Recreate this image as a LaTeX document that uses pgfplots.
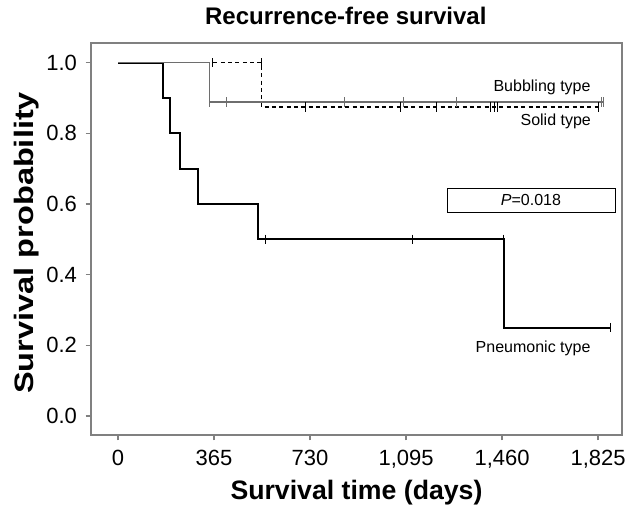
\documentclass[border=0pt]{standalone}
\usepackage{pgfplots}
\pgfplotsset{compat=1.18}
\usepackage{fontspec}
\setmainfont{Liberation Sans}
\definecolor{axgray}{HTML}{808080}
\definecolor{bubgray}{HTML}{6E6E6E}
\begin{document}
\begin{tikzpicture}[x=1pt,y=1pt]
\begin{axis}[
  scale only axis,
  width=398.25pt, height=294pt,
  xmin=-103, xmax=1916,
  ymin=-0.054, ymax=1.056,
  axis line style={axgray, line width=1.1pt},
  tick style={axgray, line width=1pt},
  tick align=outside,
  major tick length=4pt,
  xtick={0,365,730,1095,1460,1825},
  ytick={0,0.2,0.4,0.6,0.8,1.0},
  xticklabels={0,365,730,{1,095},{1,460},{1,825}},
  yticklabel style={/pgf/number format/fixed, /pgf/number format/precision=1, /pgf/number format/fixed zerofill, xshift=-3pt},
  xticklabel style={yshift=-4pt},
  /pgf/number format/assume math mode=true,
  tick label style={font=\fontsize{16.5pt}{18pt}\selectfont, black},
  xtick pos=bottom, ytick pos=left,
  title={\textbf{Recurrence-free survival}},
  title style={font=\fontsize{18pt}{20pt}\selectfont, at={(0.5,1)}, anchor=south, yshift=4pt, xshift=-8pt},
  xlabel={\textbf{Survival time (days)}},
  ylabel={\textbf{Survival probability}},
  label style={font=\fontsize{20pt}{22pt}\selectfont},
  xlabel style={at={(axis description cs:0.5,-0.148)}, anchor=center},
  ylabel style={at={(axis description cs:-0.122,0.49)}, anchor=center, rotate=0, xscale=1.22},
  clip=false,
]
% Pneumonic type
\addplot[const plot, black, line width=1.5pt] coordinates {
(0,1) (172,0.9) (198,0.8) (237,0.7) (305,0.6) (531,0.5) (1469,0.25) (1874,0.25)};
\addplot[only marks, mark=|, mark size=3.5pt, black, mark options={line width=0.8pt}] coordinates {
(561,0.5) (1119,0.5) (1465,0.5) (1874,0.25)};
% Solid type (dashed)
\addplot[const plot, black, line width=0.9pt, dash pattern=on 3pt off 2.5pt] coordinates {
(0,1) (546,0.875) (1826,0.875)};
\addplot[only marks, mark=|, mark size=3.5pt, black, mark options={line width=0.6pt, solid}] coordinates {
(357,1) (544,1) (711,0.875) (1075,0.875) (1212,0.875) (1417,0.875) (1430,0.875) (1442,0.875) (1826,0.875)};
% Bubbling type
\addplot[const plot, bubgray, line width=0.8pt] coordinates {
(0,1) (346,0.889) (1845,0.889)};
\addplot[only marks, mark=|, mark size=3.5pt, bubgray, mark options={line width=0.6pt}] coordinates {
(346,0.889) (411,0.889) (859,0.889) (1085,0.889) (1285,0.889) (1839,0.889) (1845,0.889)};
% Labels
\node[font=\fontsize{12pt}{14pt}\selectfont] at (axis cs:1612,0.931) {Bubbling type};
\node[font=\fontsize{12pt}{14pt}\selectfont] at (axis cs:1664,0.835) {Solid type};
\node[font=\fontsize{12pt}{14pt}\selectfont] at (axis cs:1578,0.192) {Pneumonic type};
\node[draw=black, line width=0.5pt, minimum width=126pt, minimum height=18pt, inner sep=0pt, font=\fontsize{12pt}{14pt}\selectfont] at (axis cs:1570,0.611) {\textit{P}=0.018};
\end{axis}
\pgfresetboundingbox
\path ([xshift=-68.25pt, yshift=-54.75pt]current axis.south west) rectangle ([xshift=2.25pt, yshift=32.25pt]current axis.north east);
\end{tikzpicture}
\end{document}
